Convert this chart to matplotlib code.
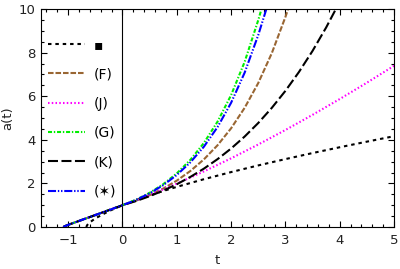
import numpy as np
import matplotlib
matplotlib.use("Agg")
import matplotlib.pyplot as plt
from matplotlib.ticker import MultipleLocator

plt.rcParams['font.family'] = ['DejaVu Sans']
plt.rcParams['lines.scale_dashes'] = False

# shared early branch (t < 0) of the five sinh-like curves
t_left = [-1.09, -1.05, -1.0, -0.9, -0.8, -0.7, -0.6, -0.5, -0.4, -0.3, -0.2, -0.1]
a_left = [0.0, 0.05, 0.10, 0.19, 0.28, 0.37, 0.46, 0.55, 0.64, 0.73, 0.82, 0.91]

# (■) matter only
t_sq = [-0.667, -0.65, -0.63, -0.6, -0.5, -0.25, 0, 0.25, 0.5, 0.75, 1, 1.5, 2, 2.5, 3, 3.5, 4, 4.5, 5]
a_sq = [0.0, 0.086, 0.145, 0.215, 0.397, 0.731, 1.0, 1.236, 1.452, 1.653, 1.842, 2.194, 2.520,
        2.826, 3.116, 3.393, 3.659, 3.916, 4.165]

# (F)
t_F = [0, 0.25, 0.5, 0.75, 1.0, 1.25, 1.5, 1.75, 2.0, 2.25, 2.5, 2.75, 3.0, 3.05]
a_F = [1.0, 1.208, 1.459, 1.762, 2.128, 2.570, 3.104, 3.749, 4.527, 5.468, 6.603, 7.975, 9.631, 10.0]

# (J)
t_J = [0, 0.25, 0.5, 0.75, 1.0, 1.5, 2.0, 2.5, 3.0, 3.5, 4.0, 4.5, 5.0]
a_J = [1.0, 1.229, 1.471, 1.725, 1.990, 2.552, 3.151, 3.785, 4.450, 5.146, 5.870, 6.619, 7.395]

# (G)
t_G = [0, 0.25, 0.5, 0.75, 1.0, 1.25, 1.5, 1.75, 2.0, 2.25, 2.5, 2.56]
a_G = [1.0, 1.252, 1.568, 1.964, 2.460, 3.080, 3.857, 4.831, 6.050, 7.576, 9.488, 10.0]

# (K)
t_K = [0, 0.25, 0.5, 0.75, 1.0, 1.25, 1.5, 1.75, 2.0, 2.25, 2.5, 2.75, 3.0, 3.25, 3.5, 3.75, 3.93]
a_K = [1.0, 1.192, 1.415, 1.670, 1.963, 2.298, 2.679, 3.112, 3.600, 4.151, 4.771, 5.466,
       6.244, 7.112, 8.078, 9.150, 10.0]

# (✶)
t_S = [0, 0.25, 0.5, 0.75, 1.0, 1.25, 1.5, 1.75, 2.0, 2.25, 2.5, 2.65]
a_S = [1.0, 1.243, 1.545, 1.920, 2.387, 2.967, 3.687, 4.583, 5.697, 7.081, 8.803, 10.0]

labels = ["\u25aa", "(F)", "(J)", "(G)", "(K)", "(\u2736)"]

fig = plt.figure(figsize=(4.0, 2.69), dpi=100)
ax = fig.add_axes([0.1025, 0.156, 0.8825, 0.8105])

lw = 1.5
ax.plot(t_sq, a_sq, color="black", lw=lw, dashes=(2.5, 2.8), label=labels[0])
ax.plot(t_left + t_F, a_left + a_F, color="#996633", lw=lw, dashes=(4.0, 1.4), label=labels[1])
ax.plot(t_left + t_J, a_left + a_J, color="#ff00ff", lw=lw, dashes=(1.1, 1.6), label=labels[2])
ax.plot(t_left + t_G, a_left + a_G, color="#00ee00", lw=lw, dashes=(2.9, 1.3, 1.0, 1.3), label=labels[3])
ax.plot(t_left + t_K, a_left + a_K, color="black", lw=lw, dashes=(7.2, 2.5), label=labels[4])
ax.plot(t_left + t_S, a_left + a_S, color="#0000ff", lw=lw, dashes=(5.8, 1.3, 1.0, 1.3, 1.0, 1.3), label=labels[5])

ax.axvline(0, color="black", lw=0.8, zorder=1)

ax.set_xlim(-1.5, 5)
ax.set_ylim(0, 10)
ax.xaxis.set_major_locator(MultipleLocator(1))
ax.xaxis.set_minor_locator(MultipleLocator(0.2))
ax.yaxis.set_major_locator(MultipleLocator(2))
ax.yaxis.set_minor_locator(MultipleLocator(0.5))
ax.tick_params(which="both", direction="in", top=True, right=True, colors="black",
               labelcolor="#222222", labelsize=9.5, width=0.8)
ax.tick_params(which="major", length=4.5)
ax.tick_params(which="minor", length=2.5)
ax.tick_params(axis="x", which="major", pad=5)
ax.tick_params(axis="y", which="major", pad=4)
for s in ax.spines.values():
    s.set_linewidth(0.8)

ax.set_xlabel("t", fontsize=9.5, color="#222222", labelpad=5)
ax.set_ylabel("a(t)", fontsize=9.5, color="#222222", labelpad=3)

ax.legend(loc="upper left", bbox_to_anchor=(-0.005, 0.905), frameon=False, fontsize=10,
          handlelength=2.7, handletextpad=0.65, labelspacing=1.1, borderaxespad=0.2)

fig.savefig("out.png", dpi=100)
